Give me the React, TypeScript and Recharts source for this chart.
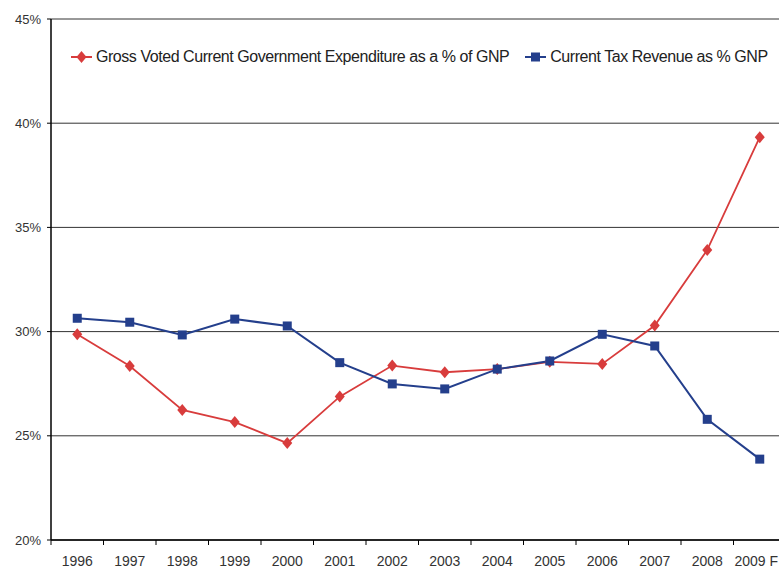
import React from "react";
import {
  LineChart,
  Line,
  XAxis,
  YAxis,
  CartesianGrid,
  Legend,
} from "recharts";

// Colours picked off the original
const RED = "#d83c3c";
const BLUE = "#243f8c";
const FONT = '"Liberation Sans", Arial, sans-serif';

// Data (% of GNP)
const years = [
  "1996", "1997", "1998", "1999", "2000", "2001", "2002",
  "2003", "2004", "2005", "2006", "2007", "2008", "2009 F",
];
const expenditure = [
  29.87, 28.35, 26.24, 25.66, 24.65, 26.88, 28.37,
  28.05, 28.2, 28.55, 28.45, 30.29, 33.92, 39.33,
];
const taxRevenue = [
  30.64, 30.45, 29.84, 30.6, 30.27, 28.51, 27.49,
  27.25, 28.2, 28.59, 29.87, 29.31, 25.79, 23.88,
];
const yTicks = [20, 25, 30, 35, 40, 45];

const EXP_LABEL = "Gross Voted Current Government Expenditure as a % of GNP";
const TAX_LABEL = "Current Tax Revenue as % GNP";

const data = years.map((year, i) => ({
  year,
  exp: expenditure[i],
  tax: taxRevenue[i],
}));

const HALF_BAND = 26.25;
const VIEW_RIGHT = 778;

const Diamond = (props: any) => {
  const { cx, cy, index } = props;
  if (cx == null || cy == null) return null;
  return (
    <path
      key={`dia-${index}`}
      d={`M${cx},${cy - 6}L${cx + 5},${cy}L${cx},${cy + 6}L${cx - 5},${cy}Z`}
      fill={RED}
    />
  );
};

const Square = (props: any) => {
  const { cx, cy, index } = props;
  if (cx == null || cy == null) return null;
  return (
    <rect key={`sq-${index}`} x={cx - 4.5} y={cy - 4.5} width={9} height={9} fill={BLUE} />
  );
};

// year label in the middle, tick mark on the category boundary
const YearTick = ({ x, y, payload }: any) => {
  // last label ("2009 F") would run off the window, pin it to the edge
  const overflow = x + 23 > VIEW_RIGHT;
  return (
    <g>
      <line x1={x - HALF_BAND} x2={x - HALF_BAND} y1={y} y2={y + 5} stroke="#000" />
      <text
        x={overflow ? VIEW_RIGHT : x}
        y={y + 26}
        textAnchor={overflow ? "end" : "middle"}
        fontSize={14}
        fill="#333"
        fontFamily={FONT}
      >
        {payload.value}
      </text>
    </g>
  );
};

const LegendBox = () => (
  <div style={{ display: "flex", alignItems: "center", fontFamily: FONT, fontSize: 16, color: "#222", letterSpacing: -0.45, whiteSpace: "nowrap" }}>
    <svg width={22} height={14} style={{ marginRight: 3 }}>
      <line x1={0} x2={21} y1={7} y2={7} stroke={RED} strokeWidth={2} />
      <path d="M10.5,1L15.5,7L10.5,13L5.5,7Z" fill={RED} />
    </svg>
    <span>{EXP_LABEL}</span>
    <svg width={22} height={14} style={{ marginLeft: 16, marginRight: 3 }}>
      <line x1={0} x2={21} y1={7} y2={7} stroke={BLUE} strokeWidth={2} />
      <rect x={6} y={2.5} width={9} height={9} fill={BLUE} />
    </svg>
    <span>{TAX_LABEL}</span>
  </div>
);

export default function App() {
  return (
    <div
      style={{
        position: "fixed",
        left: 0,
        top: 0,
        width: 779,
        height: 568,
        overflow: "hidden",
        background: "#fff",
      }}
    >
      <LineChart
        width={790}
        height={568}
        data={data}
        margin={{ top: 19, right: 4, left: 0, bottom: 0 }}
      >
        <CartesianGrid vertical={false} stroke="#333" />
        <XAxis
          dataKey="year"
          height={28}
          interval={0}
          padding={{ left: HALF_BAND, right: HALF_BAND }}
          tickLine={false}
          tickSize={0}
          tickMargin={0}
          axisLine={{ stroke: "#000", strokeWidth: 1.5 }}
          tick={<YearTick />}
        />
        <YAxis
          width={51}
          domain={[20, 45]}
          ticks={yTicks}
          interval={0}
          tickFormatter={(v) => `${v}%`}
          tickSize={4}
          tickMargin={6}
          tickLine={{ stroke: "#000" }}
          axisLine={{ stroke: "#000", strokeWidth: 1.5 }}
          tick={{ fontSize: 13, fill: "#333", fontFamily: FONT }}
        />
        {/* middle + horizontal keeps the legend from eating plot space */}
        <Legend
          layout="horizontal"
          verticalAlign="middle"
          align="center"
          content={<LegendBox />}
          wrapperStyle={{ position: "absolute", top: 48, left: 71, width: "auto" }}
        />
        <Line
          dataKey="exp"
          name={EXP_LABEL}
          stroke={RED}
          strokeWidth={1.8}
          dot={Diamond}
          activeDot={false}
          isAnimationActive={false}
        />
        <Line
          dataKey="tax"
          name={TAX_LABEL}
          stroke={BLUE}
          strokeWidth={2}
          dot={Square}
          activeDot={false}
          isAnimationActive={false}
        />
      </LineChart>
    </div>
  );
}
